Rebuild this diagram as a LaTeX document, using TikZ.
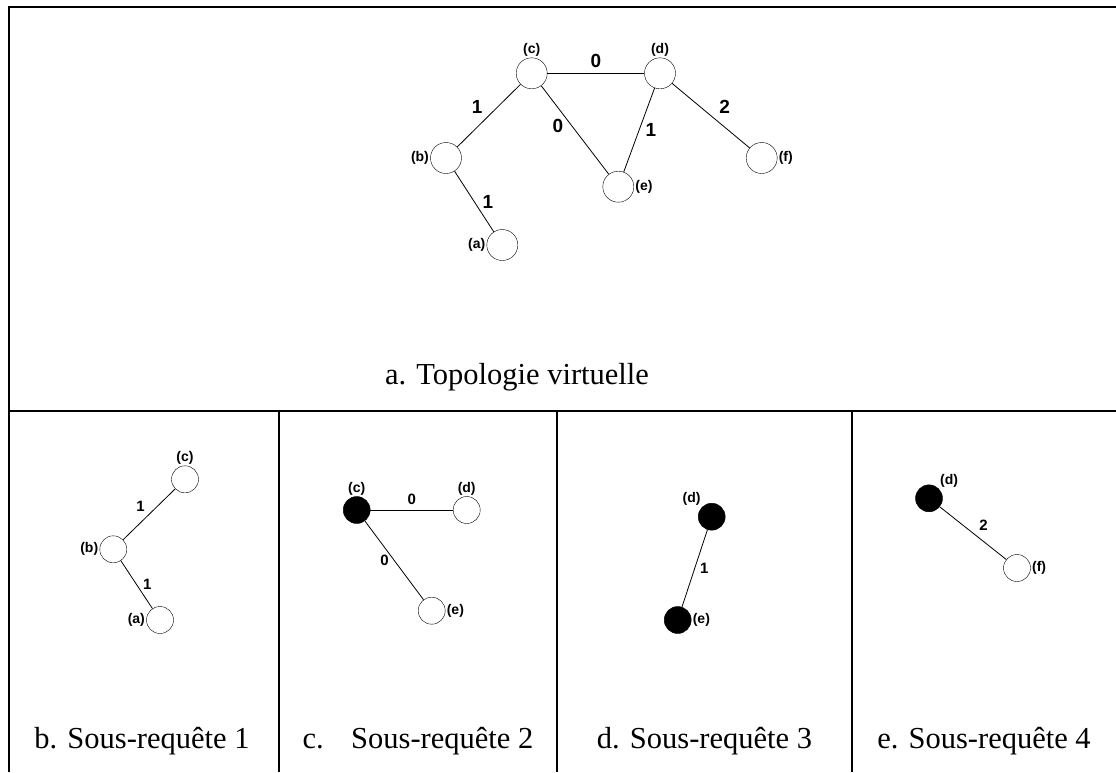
\documentclass[tikz,border=0pt]{standalone}
\usepackage{fontspec}
\setmainfont{Liberation Serif}
\newfontfamily\lblfont{Liberation Sans}
\usepackage{tikz}
\usetikzlibrary{calc,positioning}
\tikzset{every scope/.style={thick}}
\tikzstyle{free_node} =
  [ circle
  , draw
  , thin
  , fill=white
  , minimum size=31pt
  , inner sep=0pt
  ]
\tikzstyle{small_node} =
  [ free_node
  , minimum size=27pt
  ]
\tikzstyle{mapped_node} =
  [ small_node
  , fill=black
  ]
\tikzstyle{link} =
  [ draw
  , line width=0.8pt
  ]
\tikzstyle{weight} =
  [ font=\lblfont\bfseries\fontsize{19}{19}\selectfont
  , inner sep=2pt
  ]
\tikzstyle{sweight} =
  [ font=\lblfont\bfseries\fontsize{15}{15}\selectfont
  , inner sep=2pt
  ]
\tikzstyle{lbl} =
  [ font=\lblfont\bfseries\fontsize{14}{14}\selectfont
  , inner sep=1pt
  ]
\tikzstyle{caption} =
  [ anchor=base
  , font=\fontsize{30.5}{35}\selectfont
  ]
\def\NodeA{(a)}
\def\NodeB{(b)}
\def\NodeC{(c)}
\def\NodeD{(d)}
\def\NodeE{(e)}
\def\NodeF{(f)}
\def\TopoCaption{a. Topologie virtuelle}
\def\SubReqA{b. Sous-requête 1}
\def\SubReqB{c.\hspace{0.9em}Sous-requête 2}
\def\SubReqC{d. Sous-requête 3}
\def\SubReqD{e. Sous-requête 4}

\begin{document}
\begin{tikzpicture}[x=1pt,y=-1pt]
    \useasboundingbox (0,0) rectangle (1116,772);

    % frame of the five panels
    \draw[line width=2pt] (9,772) -- (9,7) -- (1116,7);
    \draw[line width=2pt] (9,411) -- (1116,411);
    \draw[line width=2pt] (279,411) -- (279,772);
    \draw[line width=2pt] (557,411) -- (557,772);
    \draw[line width=2pt] (852,411) -- (852,772);

    % a. virtual topology
    \node[free_node, label={[lbl]above:\NodeC}] (topo_c) at (531.7, 73.3) {};
    \node[free_node, label={[lbl]above:\NodeD}] (topo_d) at (660, 73.3)   {};
    \node[free_node, label={[lbl]left:\NodeB}]  (topo_b) at (446, 158)    {};
    \node[free_node, label={[lbl]right:\NodeE}] (topo_e) at (618.3, 186.7) {};
    \node[free_node, label={[lbl]right:\NodeF}] (topo_f) at (761.7, 158)  {};
    \node[free_node, label={[lbl]left:\NodeA}]  (topo_a) at (502.3, 245)  {};

    \path[link] (topo_c) -- node[weight,above=3pt]{0}                  (topo_d);
    \path[link] (topo_c) -- node[weight,above left=0pt and 4pt]{1}     (topo_b);
    \path[link] (topo_c) -- node[weight,left=6pt,pos=0.45]{0}          (topo_e);
    \path[link] (topo_d) -- node[weight,right=4pt,pos=0.5]{1}          (topo_e);
    \path[link] (topo_d) -- node[weight,above right=0pt and 6pt]{2}    (topo_f);
    \path[link] (topo_b) -- node[weight,right=6pt]{1}                  (topo_a);

    \node[caption] (topo_caption) at (517, 384) {\TopoCaption};

    % b. sub-request 1
    \node[small_node, label={[lbl]above:\NodeC}] (req1_c) at (185, 479.3) {};
    \node[small_node, label={[lbl]left:\NodeB}]  (req1_b) at (113.3, 549.3) {};
    \node[small_node, label={[lbl]left:\NodeA}]  (req1_a) at (160, 620) {};

    \path[link] (req1_c) -- node[sweight,above left=0pt and 2pt]{1} (req1_b);
    \path[link] (req1_b) -- node[sweight,right=4pt]{1}              (req1_a);

    \node[caption] (req1_caption) at (142, 748) {\SubReqA};

    % c. sub-request 2
    \node[mapped_node, label={[lbl]above:\NodeC}] (req2_c) at (356.7, 510) {};
    \node[small_node,  label={[lbl]above:\NodeD}] (req2_d) at (466.7, 510) {};
    \node[small_node,  label={[lbl]right:\NodeE}] (req2_e) at (431.7, 610.7) {};

    \path[link] (req2_c) -- node[sweight,above=3pt]{0}       (req2_d);
    \path[link] (req2_c) -- node[sweight,left=3pt]{0}        (req2_e);

    \node[caption] (req2_caption) at (418, 748) {\SubReqB};

    % d. sub-request 3
    \node[mapped_node, label={[lbl]above left=-2pt and -4pt:\NodeD}] (req3_d) at (711.7, 516.7) {};
    \node[mapped_node, label={[lbl]right:\NodeE}]                    (req3_e) at (677.7, 620) {};

    \path[link] (req3_d) -- node[sweight,right=3pt]{1} (req3_e);

    \node[caption] (req3_caption) at (704.5, 748) {\SubReqC};

    % e. sub-request 4
    \node[mapped_node, label={[lbl]above right=0pt and -8pt:\NodeD}] (req4_d) at (929, 498.3) {};
    \node[small_node,  label={[lbl]right:\NodeF}]                    (req4_f) at (1017, 568) {};

    \path[link] (req4_d) -- node[sweight,above right=0pt and 4pt]{2} (req4_f);

    \node[caption] (req4_caption) at (984, 748) {\SubReqD};
  \end{tikzpicture}
\end{document}
